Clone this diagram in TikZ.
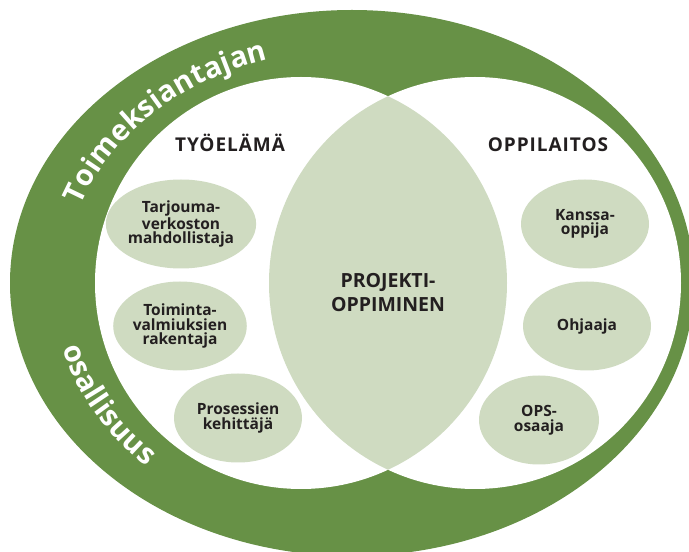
\documentclass[tikz,border=0pt]{standalone}
\usepackage{fontspec}
\setmainfont{Open Sans}
\usetikzlibrary{shapes.geometric,decorations.text,calc}
\definecolor{bandgreen}{RGB}{103,145,70}
\definecolor{palegreen}{RGB}{207,219,193}
\definecolor{ink}{RGB}{35,31,32}
\begin{document}
\begin{tikzpicture}[x=1pt,y=1pt,
  role/.style={ellipse, fill=palegreen, inner sep=0pt, minimum width=128pt, minimum height=89pt,
    align=center, text=ink, font=\bfseries\fontsize{15.5}{14.5}\selectfont},
  heading/.style={text=ink, inner sep=0pt, anchor=base,
    font=\bfseries\fontsize{19}{22}\selectfont\addfontfeature{LetterSpace=5}},
  centre/.style={text=ink, inner sep=0pt, align=center,
    font=\bfseries\fontsize{19.5}{24}\selectfont}]
\useasboundingbox (0,0) rectangle (689,552);
\clip (0,0) rectangle (689,552);
% outer band
\fill[bandgreen] (352,269) ellipse[x radius=342pt, y radius=273pt];
% two fields
\fill[white] (301,269) circle[radius=206pt];
\fill[white] (475,269) circle[radius=206pt];
\begin{scope}
  \clip (301,269) circle[radius=206pt];
  \fill[palegreen] (475,269) circle[radius=206pt];
\end{scope}
% band texts
\path[decorate, decoration={text along path, text align=fit to path,
   text={|\color{white}\bfseries\fontsize{29}{29}\selectfont|Toimeksiantajan}}]
  ($(352,269)+(160.6:288pt and 234pt)$) arc[start angle=160.6, end angle=106.9, x radius=288pt, y radius=234pt];
\path[decorate, decoration={text along path, text align=fit to path,
   text={|\color{white}\bfseries\fontsize{29}{29}\selectfont|osallisuus}}]
  ($(352,269)+(195:300pt and 252pt)$) arc[start angle=195, end angle=226.7, x radius=300pt, y radius=252pt];
% headings
\node[heading] (tyoelama) at (230,400) {TYÖELÄMÄ};
\node[heading] (oppilaitos) at (548,400) {OPPILAITOS};
\node[centre] (projekti) at (388,259) {PROJEKTI-\\OPPIMINEN};
% roles
\node[role] (tarjouma) at (181,328) {Tarjouma-\\verkoston\\mahdollistaja};
\node[role] (toiminta) at (180,226) {Toiminta-\\valmiuksien\\rakentaja};
\node[role] (prosessien) at (238,134) {Prosessien\\kehittäjä};
\node[role] (kanssa) at (585,328) {Kanssa-\\oppija};
\node[role] (ohjaaja) at (587,226) {Ohjaaja};
\node[role, minimum width=120pt] (ops) at (539,132) {OPS-\\osaaja};
\end{tikzpicture}
\end{document}
